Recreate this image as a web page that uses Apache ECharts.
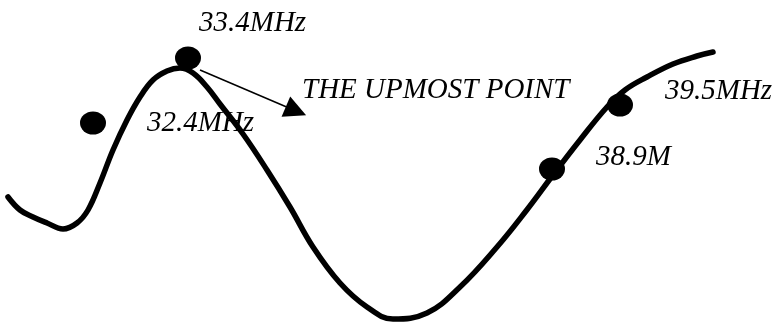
<!DOCTYPE html>
<html>
<head>
<meta charset="utf-8">
<script src="https://cdn.jsdelivr.net/npm/echarts@6/dist/echarts.min.js"></script>
<style>
  html, body { margin: 0; padding: 0; background: #fff; }
  #chart { width: 773px; height: 323px; }
</style>
</head>
<body>
<div id="chart"></div>
<script>
// curve (x to the right, y downwards)
let curveX = [8, 20, 33, 47, 63, 77, 88, 100, 113, 127, 140, 153, 167, 180, 193, 207, 220, 243, 267, 290, 313, 340, 367, 393, 427, 460, 497, 526, 553, 580, 607, 625, 647, 673, 697, 713];
let curveY = [197, 210, 217, 223, 229, 223, 210, 183, 150, 120, 97, 80, 71, 68, 73, 87, 104, 134, 170, 207, 247, 283, 307, 319, 313, 287, 247, 211, 175, 140, 107, 90, 77, 64, 56, 52];

// marked points
let dotX = [93, 188, 552, 620];
let dotY = [123, 58, 169, 105];

// texts
let labelText = ["33.4MHz", "32.4MHz", "THE UPMOST POINT", "39.5MHz", "38.9M"];
let labelX = [199, 147, 302, 665, 596];
let labelY = [23, 123, 90, 91, 157];

// arrow from the top point
let arrowFrom = [200, 70];
let arrowTo = [296, 111];

let chart = echarts.init(document.getElementById("chart"));

let option = {
  animation: false,
  grid: { left: 0, right: 0, top: 0, bottom: 0 },
  xAxis: { type: "value", min: 0, max: 773, show: false },
  yAxis: { type: "value", min: 0, max: 323, inverse: true, show: false },
  series: [
    {
      type: "line",
      data: curveX.map((x, i) => [x, curveY[i]]),
      smooth: 0.4,
      showSymbol: false,
      lineStyle: { color: "#000", width: 5.5, cap: "round", join: "round" },
    },
    {
      type: "scatter",
      data: dotX.map((x, i) => [x, dotY[i]]),
      symbol: "circle",
      symbolSize: [26, 23],
      itemStyle: { color: "#000", opacity: 1 },
    },
    {
      type: "lines",
      coordinateSystem: "cartesian2d",
      data: [{ coords: [arrowFrom, arrowTo] }],
      symbol: ["none", "triangle"],
      symbolSize: [20, 22],
      lineStyle: { color: "#000", width: 1.5, opacity: 1 },
    },
    {
      type: "scatter",
      symbolSize: 0,
      itemStyle: { opacity: 1 },
      data: labelText.map((t, i) => ({ name: t, value: [labelX[i], labelY[i]] })),
      label: {
        show: true,
        position: "right",
        distance: 0,
        formatter: "{b}",
        color: "#000",
        fontFamily: "Liberation Serif",
        fontStyle: "italic",
        fontSize: 29,
      },
    },
  ],
};

chart.setOption(option);
</script>
</body>
</html>
